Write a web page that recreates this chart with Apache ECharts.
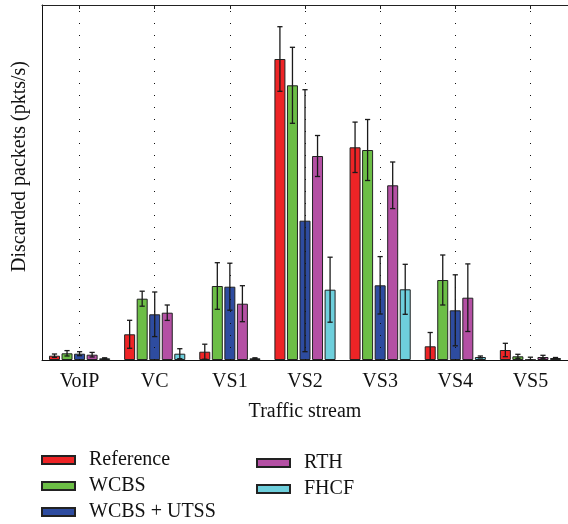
<!DOCTYPE html>
<html>
<head>
<meta charset="utf-8">
<script src="https://cdn.jsdelivr.net/npm/echarts@6/dist/echarts.min.js"></script>
<style>
html,body{margin:0;padding:0;background:#fff;}
#chart{width:568px;height:524px;}
</style>
</head>
<body>
<div id="chart"></div>
<script>
var categories = ['VoIP', 'VC', 'VS1', 'VS2', 'VS3', 'VS4', 'VS5'];
var seriesNames = ['Reference', 'WCBS', 'WCBS + UTSS', 'RTH', 'FHCF'];

var referenceVals = [0.43, 2.57, 0.83, 30.1, 21.27, 1.37, 1.0];
var referenceErr  = [0.17, 1.4, 0.75, 3.23, 2.52, 1.38, 0.67];
var wcbsVals      = [0.67, 6.13, 7.4, 27.47, 21.0, 8.0, 0.37];
var wcbsErr       = [0.27, 0.75, 2.33, 3.8, 3.05, 2.5, 0.2];
var utssVals      = [0.63, 4.57, 7.33, 13.93, 7.47, 4.97, 0.03];
var utssErr       = [0.2, 2.23, 2.35, 13.1, 2.87, 3.55, 0.25];
var rthVals       = [0.53, 4.73, 5.63, 20.4, 17.47, 6.23, 0.3];
var rthErr        = [0.23, 0.77, 1.8, 2.05, 2.33, 3.38, 0.17];
var fhcfVals      = [0.17, 0.63, 0.17, 7.03, 7.07, 0.3, 0.2];
var fhcfErr       = [0.05, 0.5, 0.05, 3.25, 2.5, 0.1, 0.05];

var allVals = [referenceVals, wcbsVals, utssVals, rthVals, fhcfVals];
var allErr = [referenceErr, wcbsErr, utssErr, rthErr, fhcfErr];
var colors = ['#ee2426', '#6cbe46', '#2e4ca0', '#b450a4', '#6ecfdc'];

var FONT = 'Liberation Serif';
var BAR_W = 11;
var BAR_GAP = 0.14;
var PITCH = BAR_W * (1 + BAR_GAP);

var series = [];
series.push({
  type: 'line', data: [], z: 0, silent: true,
  markLine: {
    symbol: 'none', silent: true, animation: false,
    label: {show: false},
    lineStyle: {type: [1, 11], color: '#111', width: 1},
    data: categories.map(function (c) { return {xAxis: c}; })
  }
});
seriesNames.forEach(function (name, i) {
  series.push({
    name: name, type: 'bar', data: allVals[i],
    barWidth: BAR_W, barGap: (BAR_GAP * 100) + '%',
    itemStyle: {color: colors[i], borderColor: '#222', borderWidth: 1},
    z: 2
  });
});
seriesNames.forEach(function (name, i) {
  var d = allVals[i].map(function (v, k) { return [k, v, allErr[i][k]]; });
  series.push({
    name: 'err' + i, type: 'custom', z: 5, silent: true,
    encode: {x: 0, y: 1},
    data: d,
    renderItem: function (params, api) {
      var k = api.value(0), v = api.value(1), e = api.value(2);
      var lo = api.coord([k, Math.max(0, v - e)]);
      var hi = api.coord([k, v + e]);
      var x = lo[0] + (i - 2) * PITCH;
      var cap = 2.6;
      var st = {stroke: '#1a1a1a', lineWidth: 1.3};
      return {
        type: 'group',
        children: [
          {type: 'line', shape: {x1: x, y1: lo[1], x2: x, y2: hi[1]}, style: st},
          {type: 'line', shape: {x1: x - cap, y1: lo[1], x2: x + cap, y2: lo[1]}, style: st},
          {type: 'line', shape: {x1: x - cap, y1: hi[1], x2: x + cap, y2: hi[1]}, style: st}
        ]
      };
    }
  });
});

var chart = echarts.init(document.getElementById('chart'));
chart.setOption({
  animation: false,
  backgroundColor: '#fff',
  grid: {left: 42, top: 5, right: -3, height: 355},
  xAxis: [{
    type: 'category', data: categories, position: 'bottom',
    axisLine: {show: true, lineStyle: {color: '#111', width: 1}},
    axisTick: {show: false},
    axisLabel: {fontFamily: FONT, fontSize: 20, color: '#111', margin: 12},
    name: 'Traffic stream', nameLocation: 'middle', nameGap: 42,
    nameTextStyle: {fontFamily: FONT, fontSize: 20, color: '#111'}
  }, {
    type: 'category', data: categories, position: 'top',
    axisLine: {show: true, lineStyle: {color: '#222', width: 1}},
    axisTick: {show: true, inside: true, alignWithLabel: true, length: 4, lineStyle: {color: '#222'}},
    axisLabel: {show: false}
  }],
  yAxis: {
    type: 'value', min: 0, max: 35.5,
    axisLine: {show: true, lineStyle: {color: '#111', width: 1}},
    axisTick: {show: false}, axisLabel: {show: false}, splitLine: {show: false},
    name: 'Discarded packets (pkts/s)', nameLocation: 'middle', nameGap: 12,
    nameTextStyle: {fontFamily: FONT, fontSize: 20, color: '#111', padding: [0, 0, 0, 32]}
  },
  legend: [{
    data: seriesNames.slice(0, 3), orient: 'vertical', left: 41, top: 450, height: 90,
    padding: 0,
    icon: 'rect', itemWidth: 33, itemHeight: 8, itemGap: 6,
    textStyle: {fontFamily: FONT, fontSize: 20, color: '#111', padding: [0, 0, 0, 9]}
  }, {
    data: seriesNames.slice(3), orient: 'vertical', left: 256, top: 453, height: 90,
    padding: 0,
    icon: 'rect', itemWidth: 33, itemHeight: 8, itemGap: 6,
    textStyle: {fontFamily: FONT, fontSize: 20, color: '#111', padding: [0, 0, 0, 9]}
  }],
  series: series
});
</script>
</body>
</html>
